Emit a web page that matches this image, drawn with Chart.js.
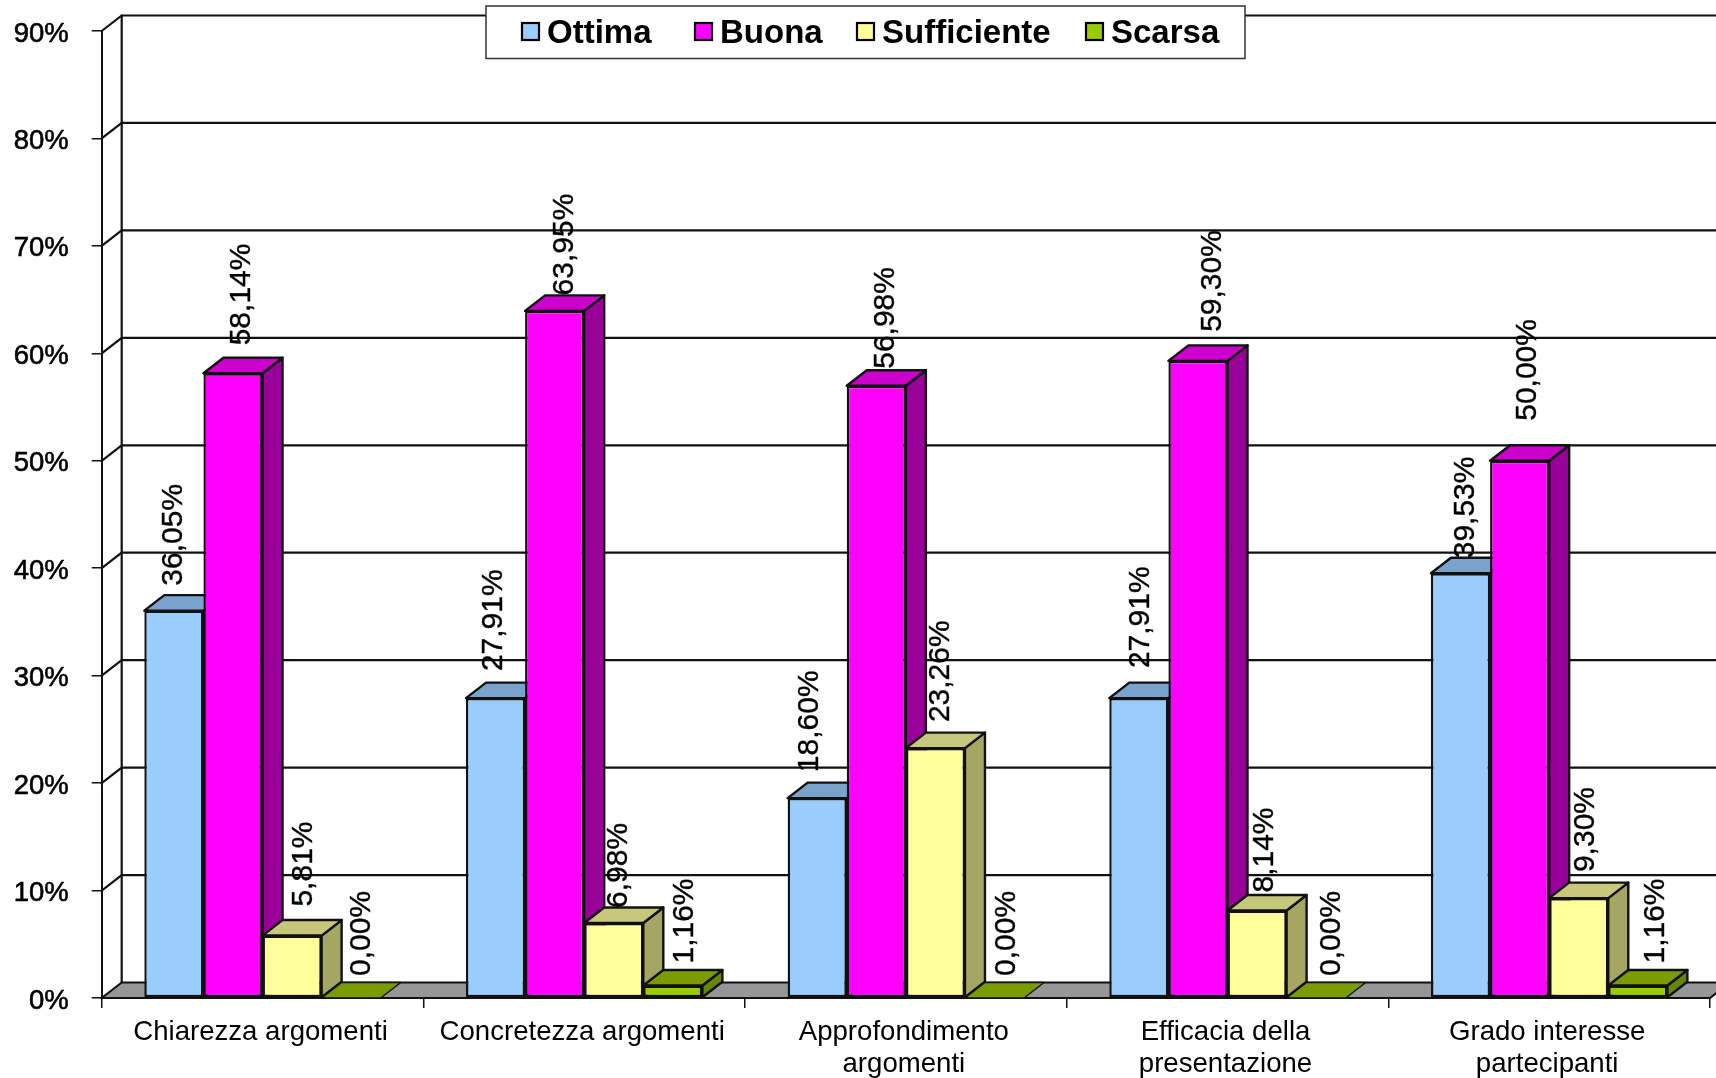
<!DOCTYPE html>
<html><head><meta charset="utf-8">
<style>html,body{margin:0;padding:0;background:#fff;overflow:hidden}canvas{display:block}</style>
<script src="https://cdn.jsdelivr.net/npm/chart.js@4/dist/chart.umd.js"></script>
</head><body>
<canvas id="c" width="1716" height="1078"></canvas>
<script>
const categories = ["Chiarezza argomenti","Concretezza argomenti",["Approfondimento","argomenti"],["Efficacia della","presentazione"],["Grado interesse","partecipanti"]];
const ottima = [36.05,27.91,18.60,27.91,39.53];
const buona = [58.14,63.95,56.98,59.30,50.00];
const sufficiente = [5.81,6.98,23.26,8.14,9.30];
const scarsa = [0,1.16,0,0,1.16];
const seriesNames = ["Ottima","Buona","Sufficiente","Scarsa"];
const frontColors = ["#99CCFF","#FF00FF","#FFFF99","#99CC00"];
const topColors = ["#7AA3CC","#CC00CC","#C8C87C","#7A9C00"];
const sideColors = ["#5C7A99","#990099","#A6A664","#668800"];
// hand placement of the value labels, as in the source chart
const labelLift = [[25,28,29,22],[27,15.5,15,22],[26,17,26,22],[30,29,18,22],[15,40,26,22]];
const labelShift = [[0,9,12,11],[-2,10,5,12],[-7,9,5,12],[2,15,8,16],[5,8,7,18]];
const FONT = '"Liberation Sans", Arial, sans-serif';
const DX = 20, DY = 15.5;
const INK = '#111';

function poly(ctx, pts, fill){
  ctx.beginPath();
  pts.forEach((p,i)=> i ? ctx.lineTo(p[0],p[1]) : ctx.moveTo(p[0],p[1]));
  ctx.closePath();
  ctx.fillStyle = fill; ctx.fill();
  ctx.lineWidth = 2.4; ctx.strokeStyle = INK; ctx.lineJoin='round'; ctx.stroke();
}
const scene = {
  id:'scene',
  beforeDatasetsDraw(chart){
    const {ctx, chartArea:a, scales:{y}} = chart;
    ctx.save();
    ctx.lineCap='round';
    const y0 = y.getPixelForValue(0);
    // floor
    ctx.beginPath();
    ctx.moveTo(a.left,y0); ctx.lineTo(a.left+DX,y0-DY); ctx.lineTo(a.right+DX,y0-DY); ctx.lineTo(a.right,y0); ctx.closePath();
    ctx.fillStyle='#969696'; ctx.fill();
    ctx.strokeStyle=INK; ctx.lineWidth=2.2;
    // back wall grid
    y.ticks.forEach(t=>{
      const p = y.getPixelForValue(t.value);
      ctx.beginPath(); ctx.moveTo(a.left,p); ctx.lineTo(a.left+DX,p-DY); ctx.lineTo(a.right+DX+10,p-DY); ctx.stroke();
    });
    ctx.beginPath(); ctx.moveTo(a.left+DX,y0-DY); ctx.lineTo(a.left+DX,y.getPixelForValue(90)-DY); ctx.stroke();
    ctx.beginPath(); ctx.moveTo(a.left,y0); ctx.lineTo(a.right,y0); ctx.lineTo(a.right+DX,y0-DY); ctx.stroke();
    // bars, left to right so each front covers the previous side
    const metas = chart.data.datasets.map((_,i)=>chart.getDatasetMeta(i));
    categories.forEach((_,c)=>{
      metas.forEach((m,s)=>{
        const b = m.data[c].getProps(['x','y','width','base'],false);
        const l=b.x-b.width/2, r=b.x+b.width/2;
        if (b.base-b.y > 0.5){
          poly(ctx,[[r,b.y],[r+DX,b.y-DY],[r+DX,b.base-DY],[r,b.base]],sideColors[s]);
        }
        if (chart.data.datasets[s].data[c] === 0){
          ctx.beginPath();
          ctx.moveTo(l,b.y);ctx.lineTo(l+DX,b.y-DY);ctx.lineTo(r+DX,b.y-DY);ctx.lineTo(r,b.y);ctx.closePath();
          ctx.fillStyle=topColors[s];ctx.fill();
          ctx.lineWidth=1.5;ctx.strokeStyle=INK;ctx.stroke();
        } else {
          poly(ctx,[[l,b.y],[l+DX,b.y-DY],[r+DX,b.y-DY],[r,b.y]],topColors[s]);
          m.data[c].draw(ctx);
        }
      });
    });
    ctx.restore();
    return false;
  },
  afterDraw(chart){
    const {ctx} = chart;
    ctx.save();
    // value labels
    ctx.fillStyle='#000'; ctx.strokeStyle='#000'; ctx.lineWidth=0.4;
    ctx.font='30px '+FONT; ctx.textAlign='left'; ctx.textBaseline='middle';
    chart.data.datasets.forEach((ds,s)=>{
      const m = chart.getDatasetMeta(s);
      ds.data.forEach((v,c)=>{
        const b = m.data[c];
        const t = v.toFixed(2).replace('.',',')+'%';
        ctx.save();
        ctx.translate(b.x+labelShift[c][s], b.y-labelLift[c][s]);
        ctx.rotate(-Math.PI/2);
        ctx.fillText(t,0,0);
        ctx.strokeText(t,0,0);
        ctx.restore();
      });
    });
    // legend
    ctx.fillStyle='#fff'; ctx.strokeStyle='#333'; ctx.lineWidth=1.5;
    ctx.fillRect(486,6,759,52.5); ctx.strokeRect(486,6,759,52.5);
    const swatchX=[522,695,857,1086];
    ctx.font='bold 33px '+FONT; ctx.textBaseline='alphabetic';
    seriesNames.forEach((n,i)=>{
      ctx.fillStyle=frontColors[i]; ctx.strokeStyle='#000'; ctx.lineWidth=2.2;
      ctx.fillRect(swatchX[i],23,17,17); ctx.strokeRect(swatchX[i],23,17,17);
      ctx.fillStyle='#000';
      ctx.fillText(n,swatchX[i]+25,42.5);
    });
    ctx.restore();
  }
};
const xFont = {family:FONT,size:27.6,lineHeight:1.15};
const yFont = {family:FONT,size:27.5,lineHeight:1.15};
new Chart(document.getElementById('c'),{
  type:'bar',
  data:{labels:categories,datasets:[ottima,buona,sufficiente,scarsa].map((d,i)=>({
    label:seriesNames[i],data:d,backgroundColor:frontColors[i],borderColor:INK,borderWidth:2.4,borderSkipped:false,
    categoryPercentage:0.735,barPercentage:1
  }))},
  options:{
    responsive:false,animation:false,
    layout:{padding:{left:0,right:6,top:31,bottom:0}},
    plugins:{legend:{display:false},tooltip:{enabled:false}},
    scales:{
      x:{
        grid:{drawOnChartArea:false,color:INK,lineWidth:1.5,tickLength:10},
        border:{color:INK,width:2},
        ticks:{color:'#000',font:xFont,padding:9,labelOffset:-2,autoSkip:false,maxRotation:0},
        afterFit(s){s.height=80;}
      },
      y:{
        min:0,max:90,
        grid:{drawOnChartArea:false,color:INK,lineWidth:1.5,tickLength:10},
        border:{color:INK,width:2},
        ticks:{stepSize:10,color:'#000',font:yFont,padding:23,labelOffset:3,textStrokeColor:'#000',textStrokeWidth:0.6,callback:v=>v+'%'},
        afterFit(s){s.width=101.7;s.paddingTop=0;s.paddingBottom=0;}
      }
    }
  },
  plugins:[scene]
});
</script>
</body></html>
